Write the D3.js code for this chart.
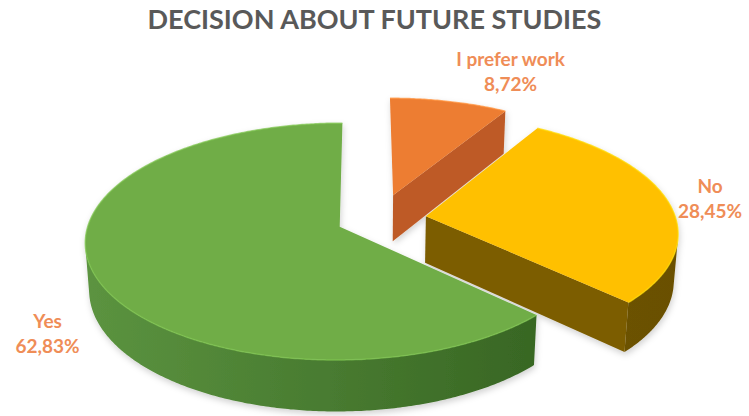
<!DOCTYPE html>
<html>
<head>
<meta charset="utf-8">
<script src="https://cdn.jsdelivr.net/npm/d3@7"></script>
<style>
  html, body { margin: 0; padding: 0; background: #ffffff; }
  svg { display: block; }
</style>
</head>
<body>
<svg id="chart" width="749" height="416"></svg>
<script>
// ---- data ----
const title = "DECISION ABOUT FUTURE STUDIES";
const categories = ["I prefer work", "No", "Yes"];
const values = [8.72, 28.45, 62.83];

// ---- styling ----
const topColors  = ["#ED7D31", "#FFC000", "#70AD47"];
const sideLight  = ["#C35F24", "#7F6000", "#5C9440"];
const sideDark   = ["#A54E1C", "#6A5000", "#2F5A1C"];
const faceColors = ["#BE5A26", "#7C5D00", "#3F6E28"];
const labelColor = "#EF8D57";
const explode    = [0.22, 0.19, 0.17];   // how far each slice is pulled out (radius units)

// ---- 3D view of the pie ----
const view = {
  cx: 364, cy: 219,          // screen position of the pie centre (top plane)
  camX: -0.06,               // camera sideways offset, radius units
  f: 1787, D: 7.15,          // focal length (px) and camera distance (radius units)
  tilt: 27.3 * Math.PI / 180,
  depth: 0.213               // slab thickness, radius units
};
const sT = Math.sin(view.tilt), cT = Math.cos(view.tilt);
const camera = [view.camX, view.D * sT, view.D * cT];

function project(x, y, z) {
  const v = y * cT - z * sT;
  const d = view.D - (y * sT + z * cT);
  return [view.cx + view.f * (x - view.camX) / d, view.cy - view.f * v / d];
}

const svg = d3.select("#chart");
const defs = svg.append("defs");

const shadow = defs.append("filter").attr("id", "soft")
  .attr("x", "-10%").attr("y", "-10%").attr("width", "120%").attr("height", "130%");
shadow.append("feDropShadow").attr("dx", 1).attr("dy", 3)
  .attr("stdDeviation", 3).attr("flood-color", "#000").attr("flood-opacity", 0.18);

// horizontal shading across each slice's outer wall
categories.forEach((c, i) => {
  const g = defs.append("linearGradient").attr("id", "side" + i)
    .attr("gradientUnits", "userSpaceOnUse")
    .attr("x1", 80).attr("x2", 690).attr("y1", 0).attr("y2", 0);
  g.append("stop").attr("offset", "0%").attr("stop-color", sideLight[i]);
  g.append("stop").attr("offset", "70%").attr("stop-color", d3.interpolateRgb(sideLight[i], sideDark[i])(0.75));
  g.append("stop").attr("offset", "100%").attr("stop-color", sideDark[i]);
});

const pie = d3.pie().sort(null).value(d => d)
  .startAngle(0).endAngle(2 * Math.PI);
const arcs = pie(values);

const line = d3.line();
const h = view.depth;

function sliceGeometry(a, i) {
  const mid = (a.startAngle + a.endAngle) / 2;
  const ox = explode[i] * Math.sin(mid);
  const oz = -explode[i] * Math.cos(mid);
  const rim = (ang, y) => project(ox + Math.sin(ang), y, oz - Math.cos(ang));
  const n = Math.max(8, Math.ceil((a.endAngle - a.startAngle) / 0.01));
  const angles = d3.range(n + 1).map(k => a.startAngle + (a.endAngle - a.startAngle) * k / n);
  return { ox, oz, rim, angles, mid };
}

// back slices first, front slice last
const order = [0, 1, 2];
const gPie = svg.append("g").attr("filter", "url(#soft)");

order.forEach(i => {
  const a = arcs[i];
  const { ox, oz, rim, angles } = sliceGeometry(a, i);
  const g = gPie.append("g");
  const topArc = angles.map(t => rim(t, 0));

  // outer wall: only the part of the rim that faces the camera
  const facing = angles.filter(t => {
    const nx = Math.sin(t), nz = -Math.cos(t);
    return (camera[0] - (ox + nx)) * nx + (camera[2] - (oz + nz)) * nz > 0;
  });
  if (facing.length > 1) {
    const wallTop = facing.map(t => rim(t, 0));
    const wallBot = facing.slice().reverse().map(t => rim(t, -h));
    g.append("path")
      .attr("d", line(wallTop.concat(wallBot)) + "Z")
      .attr("fill", `url(#side${i})`);
  }

  // cut faces turned clearly towards the camera
  [[a.startAngle, [-Math.cos(a.startAngle), -Math.sin(a.startAngle)]],
   [a.endAngle,   [ Math.cos(a.endAngle),    Math.sin(a.endAngle)]]].forEach(([ang, nrm]) => {
    const toCam = (camera[0] - ox) * nrm[0] + (camera[2] - oz) * nrm[1];
    if (toCam <= 0.5) return;
    const quad = [project(ox, 0, oz), rim(ang, 0), rim(ang, -h), project(ox, -h, oz)];
    g.append("path").attr("d", line(quad) + "Z").attr("fill", faceColors[i]);
  });

  // top face
  g.append("path")
    .attr("d", line([project(ox, 0, oz)].concat(topArc)) + "Z")
    .attr("fill", topColors[i]);

  // soft highlight along the rim edge
  g.append("path")
    .attr("d", line(topArc))
    .attr("fill", "none")
    .attr("stroke", d3.color(topColors[i]).brighter(0.35))
    .attr("stroke-width", 1.5)
    .attr("stroke-opacity", 0.7);
});

// ---- title ----
svg.append("text")
  .attr("x", 374.5).attr("y", 29)
  .attr("text-anchor", "middle")
  .attr("font-family", "Lato, 'Open Sans', sans-serif")
  .attr("font-weight", 700)
  .attr("font-size", 27)
  .attr("fill", "#595959")
  .text(title);

// ---- data labels: placed beside each slice's outer rim ----
const labelNudge = [[62, -57], [44, -32], [-49, 29]];
const fmt = v => d3.format(".2f")(v).replace(".", ",") + "%";
arcs.forEach((a, i) => {
  const { ox, oz, mid } = sliceGeometry(a, i);
  const p = project(ox + Math.sin(mid), -h / 2, oz - Math.cos(mid));
  const x = p[0] + labelNudge[i][0];
  const t = svg.append("text")
    .attr("x", x)
    .attr("y", p[1] + labelNudge[i][1])
    .attr("text-anchor", "middle")
    .attr("font-family", "Lato, 'Open Sans', sans-serif")
    .attr("font-weight", 700)
    .attr("font-size", 19)
    .attr("fill", labelColor);
  t.append("tspan").attr("x", x).attr("dy", 0).text(categories[i]);
  t.append("tspan").attr("x", x).attr("dy", 25).text(fmt(values[i]));
});
</script>
</body>
</html>
